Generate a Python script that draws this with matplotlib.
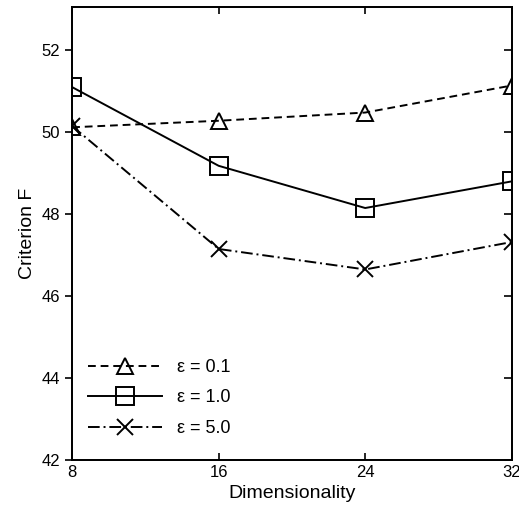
import matplotlib.pyplot as plt

# dimensionality vs criterion F for three epsilon values
dims = [8, 16, 24, 32]
f_eps01 = [50.12, 50.28, 50.48, 51.14]
f_eps10 = [51.10, 49.18, 48.15, 48.80]
f_eps50 = [50.15, 47.15, 46.65, 47.32]
labels = ["\u03b5 = 0.1", "\u03b5 = 1.0", "\u03b5 = 5.0"]
yticks = [42, 44, 46, 48, 50, 52]

plt.rcParams['font.family'] = ['Liberation Sans', 'DejaVu Sans']

fig = plt.figure(figsize=(5.19, 5.18), dpi=100)
ax = fig.add_axes([0.139, 0.112, 0.847, 0.874])

common = dict(color='black', linewidth=1.4, markerfacecolor='none',
              markeredgecolor='black', markeredgewidth=1.4)
ax.plot(dims, f_eps01, linestyle=(0, (4, 2.5)), marker='^', markersize=12,
        label=labels[0], **common)
ax.plot(dims, f_eps10, linestyle='-', marker='s', markersize=13,
        label=labels[1], **common)
ax.plot(dims, f_eps50, linestyle=(0, (6, 2, 1, 2)), marker='x', markersize=12,
        label=labels[2], **common)

ax.set_xlim(8, 32)
ax.set_ylim(42, 53.05)
ax.set_xticks(dims)
ax.set_yticks(yticks)
ax.tick_params(axis='x', direction='in', top=True, labelsize=12, length=5, width=1.2)
ax.tick_params(axis='y', direction='out', labelsize=12, length=5, width=1.2)

# inward ticks on the right side
ax_r = ax.twinx()
ax_r.set_ylim(42, 53.05)
ax_r.set_yticks(yticks)
ax_r.tick_params(axis='y', which='major', direction='in', length=6, width=1.2,
                 right=True, labelright=False)

ax.set_xlabel("Dimensionality", fontsize=14)
ax.set_ylabel("Criterion F", fontsize=14)

leg = ax.legend(loc='lower left', bbox_to_anchor=(0.0, 0.015), frameon=False,
                fontsize=13, handlelength=4.1, labelspacing=0.75)

for a in (ax, ax_r):
    for s in a.spines.values():
        s.set_linewidth(1.3)

plt.savefig('out.png', dpi=100)
